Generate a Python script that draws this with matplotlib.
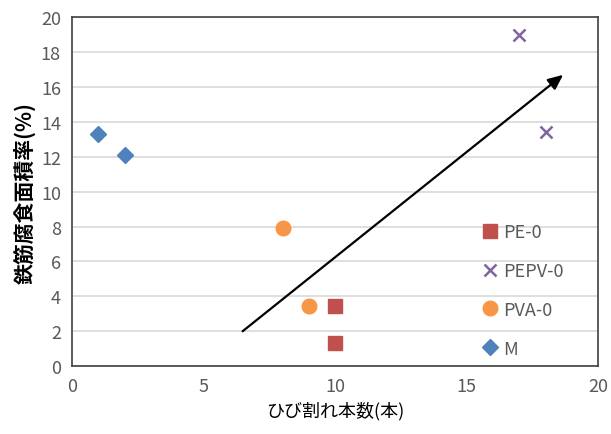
import matplotlib
matplotlib.use('Agg')
import matplotlib.pyplot as plt

plt.rcParams['font.family'] = ['Noto Sans CJK JP', 'DejaVu Sans']

# data
m_x = [1, 2]
m_y = [13.3, 12.1]
pva_x = [8, 9]
pva_y = [7.9, 3.45]
pe_x = [10, 10]
pe_y = [3.45, 1.3]
pepv_x = [17, 18]
pepv_y = [19.0, 13.4]

# trend arrow (data coords)
arrow_start = (6.4, 1.9)
arrow_end = (18.75, 16.8)

fig = plt.figure(figsize=(6.11, 4.35), dpi=100)
ax = fig.add_axes([0.118, 0.156, 0.861, 0.802])

h_m, = ax.plot(m_x, m_y, 'D', color='#4F81BD', markersize=8.5, linestyle='none')
h_pva, = ax.plot(pva_x, pva_y, 'o', color='#F79646', markersize=10.5, linestyle='none')
h_pe, = ax.plot(pe_x, pe_y, 's', color='#C0504D', markersize=9.5, linestyle='none')
h_pepv, = ax.plot(pepv_x, pepv_y, 'x', color='#8064A2', markersize=9, markeredgewidth=1.8,
                  linestyle='none')

ax.annotate('', xy=arrow_end, xytext=arrow_start,
            arrowprops=dict(arrowstyle='-|>,head_length=0.9,head_width=0.4',
                            color='black', lw=1.6))

ax.set_xlim(0, 20)
ax.set_ylim(0, 20)
ax.set_xticks(range(0, 21, 5))
ax.set_yticks(range(0, 21, 2))
ax.yaxis.grid(True, color='#D9D9D9', linewidth=1.2)
ax.set_axisbelow(True)
ax.tick_params(length=0, labelsize=13, labelcolor='#595959', pad=8)
for s in ax.spines.values():
    s.set_color('#404040')
    s.set_linewidth(1.2)

ax.set_xlabel('ひび割れ本数(本)', fontsize=13, labelpad=4)
ax.set_ylabel('鉄筋腐食面積率(%)', fontsize=15, fontweight='bold', labelpad=4)

ax.legend([h_pe, h_pepv, h_pva, h_m], ['PE-0', 'PEPV-0', 'PVA-0', 'M'],
          loc='lower left', bbox_to_anchor=(0.743, -0.022),
          frameon=False, fontsize=13, labelcolor='#595959', handletextpad=0.1,
          labelspacing=1.15, handlelength=1.2)

fig.savefig('out.png', dpi=100)
